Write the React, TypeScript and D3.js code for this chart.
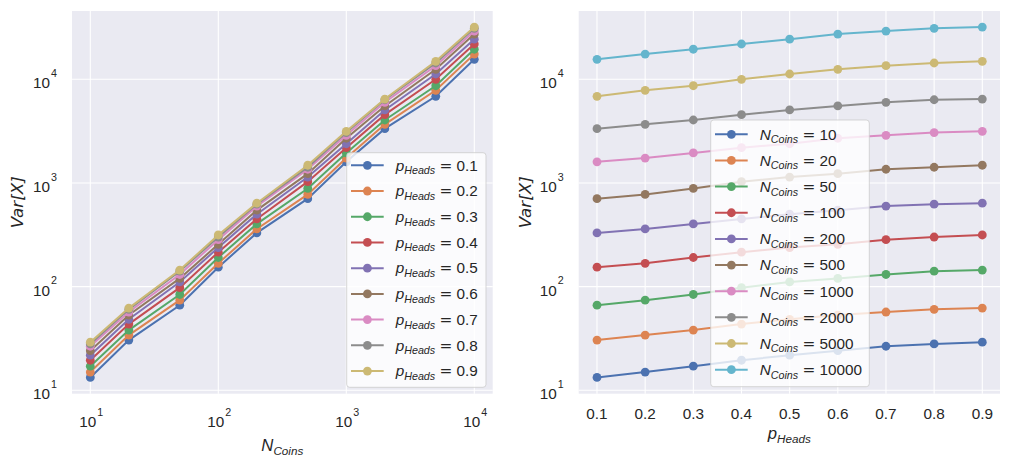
import React from "react";
import * as d3 from "d3";

const pHeads = [0.1, 0.2, 0.3, 0.4, 0.5, 0.6, 0.7, 0.8, 0.9];
const nCoins = [10, 20, 50, 100, 200, 500, 1000, 2000, 5000, 10000];

// Var[X] read per N (index follows pHeads)
const varN10 = [13.3, 15.0, 17.1, 19.5, 21.8, 24.1, 26.6, 28.0, 29.1];
const varN20 = [30.5, 34.1, 38.1, 43.5, 48.4, 53.2, 56.9, 60.4, 62.1];
const varN50 = [66.2, 74, 84, 97.7, 111, 120, 131, 141, 144.5];
const varN100 = [154, 168, 191, 215, 238, 256, 284, 301, 315];
const varN200 = [330, 360, 403, 450, 500, 547, 598, 625, 638];
const varN500 = [705, 775, 885, 1030, 1140, 1230, 1356, 1418, 1483];
const varN1000 = [1600, 1740, 1950, 2190, 2390, 2700, 2880, 3060, 3150];
const varN2000 = [3340, 3680, 4050, 4560, 5060, 5530, 6000, 6350, 6450];
const varN5000 = [6850, 7830, 8670, 10000, 11250, 12480, 13520, 14360, 14920];
const varN10000 = [15600, 17500, 19500, 21900, 24400, 27300, 29200, 31000, 31900];

const varByN = [varN10, varN20, varN50, varN100, varN200, varN500, varN1000, varN2000, varN5000, varN10000];

const yTicks = [10, 100, 1000, 10000];
const xTicksLeft = [10, 100, 1000, 10000];
const xTicksRight = [0.1, 0.2, 0.3, 0.4, 0.5, 0.6, 0.7, 0.8, 0.9];

const palette = ["#4C72B0", "#DD8452", "#55A868", "#C44E52", "#8172B3", "#937860", "#DA8BC3", "#8C8C8C", "#CCB974", "#64B5CD"];

const TEXT = "#262626";
const BG = "#EAEAF2";
const TICK_FONT = "'Liberation Sans', Arial, sans-serif";
const MATH_FONT = "'DejaVu Sans', sans-serif";
const TFS = 15.3;
const LFS = 16.7;

const top = 11, bottom = 393.7;
const L = { x0: 72, x1: 492.7 };
const R = { x0: 578.7, x1: 1000 };

const yScale = d3.scaleLog().domain([10, 10000]).range([390.3, 79.3]);
const xLeft = d3.scaleLog().domain([10, 10000]).range([90.3, 474.3]);
const xRight = d3.scaleLinear().domain([0.1, 0.9]).range([597, 982.3]);

function Pow10({ x, y, exp, anchor }: { x: number; y: number; exp: number; anchor: string }) {
  return (
    <text x={x} y={y} fontFamily={TICK_FONT} fontSize={TFS} fill={TEXT} textAnchor={anchor}>
      <tspan>10</tspan>
      <tspan dx={1} dy={-11.3} fontSize={10.7}>{exp}</tspan>
    </text>
  );
}

function MathLabel({ x, y, main, sub, rest, fs, anchor }: { x: number; y: number; main: string; sub: string; rest?: string; fs: number; anchor?: string }) {
  const sfs = fs * 0.7;
  const dy = fs * 0.24;
  return (
    <text x={x} y={y} fontFamily={TICK_FONT} fontSize={fs} fill={TEXT} textAnchor={anchor || "start"} style={{ whiteSpace: "pre" }}>
      <tspan fontStyle="italic">{main}</tspan>
      <tspan fontStyle="italic" fontSize={sfs} dy={dy}>{sub}</tspan>
      {rest ? <tspan dy={-dy}>{" "}</tspan> : null}
      {rest ? <tspan fontFamily={MATH_FONT}>=</tspan> : null}
      {rest ? <tspan>{" " + rest}</tspan> : null}
    </text>
  );
}

function Panel({ x0, x1, xTicks, xScale, xTickKind, series, legend }: any) {
  const line = d3.line<[number, number]>().x((d) => xScale(d[0])).y((d) => yScale(d[1]));
  const clipId = `clip-${Math.round(x0)}`;
  return (
    <g>
      <defs>
        <clipPath id={clipId}>
          <rect x={x0} y={top} width={x1 - x0} height={bottom - top} />
        </clipPath>
      </defs>
      <rect x={x0} y={top} width={x1 - x0} height={bottom - top} fill={BG} />
      {yTicks.map((t) => (
        <line key={"gy" + t} x1={x0} x2={x1} y1={yScale(t)} y2={yScale(t)} stroke="#fff" strokeWidth={1.1} />
      ))}
      {xTicks.map((t: number) => (
        <line key={"gx" + t} x1={xScale(t)} x2={xScale(t)} y1={top} y2={bottom} stroke="#fff" strokeWidth={1.1} />
      ))}
      <g clipPath={`url(#${clipId})`}>
        {series.map((s: [number, number][], i: number) => (
          <g key={"s" + i}>
            <path d={line(s) || ""} fill="none" stroke={palette[i]} strokeWidth={2} />
            {s.map((d, j) => (
              <circle key={j} cx={xScale(d[0])} cy={yScale(d[1])} r={4.4} fill={palette[i]} />
            ))}
          </g>
        ))}
      </g>
      {yTicks.map((t) => (
        <Pow10 key={"ty" + t} x={x0 - 15} y={yScale(t) + 9} exp={Math.round(Math.log10(t))} anchor="end" />
      ))}
      {xTicks.map((t: number) =>
        xTickKind === "log" ? (
          <Pow10 key={"tx" + t} x={xScale(t) + 1} y={427.3} exp={Math.round(Math.log10(t))} anchor="middle" />
        ) : (
          <text key={"tx" + t} x={xScale(t)} y={419.3} fontFamily={TICK_FONT} fontSize={TFS} fill={TEXT} textAnchor="middle">
            {d3.format(".1f")(t)}
          </text>
        )
      )}
      {legend}
    </g>
  );
}

function Legend({ x, y, w, h, rowY0, step, labels, sub, main }: any) {
  return (
    <g>
      <rect x={x} y={y} width={w} height={h} rx={3} fill="#fff" fillOpacity={0.8} stroke="#cccccc" strokeOpacity={0.8} strokeWidth={1} />
      {labels.map((lab: string, i: number) => {
        const cy = rowY0 + i * step;
        return (
          <g key={i}>
            <line x1={x + 4.3} x2={x + 37} y1={cy} y2={cy} stroke={palette[i]} strokeWidth={2} />
            <circle cx={x + 20.7} cy={cy} r={4.4} fill={palette[i]} />
            <MathLabel x={x + 49} y={cy + 5.3} main={main} sub={sub} rest={lab} fs={TFS} />
          </g>
        );
      })}
    </g>
  );
}

export default function App() {
  const leftSeries = pHeads.map((p, pi) => nCoins.map((n, ni) => [n, varByN[ni][pi]] as [number, number]));
  const rightSeries = nCoins.map((n, ni) => pHeads.map((p, pi) => [p, varByN[ni][pi]] as [number, number]));
  return (
    <div style={{ position: "absolute", left: 0, top: 0 }}>
      <svg width={1010} height={465} style={{ display: "block", background: "#fff" }}>
        <Panel
          x0={L.x0}
          x1={L.x1}
          xTicks={xTicksLeft}
          xScale={xLeft}
          xTickKind="log"
          series={leftSeries}
          legend={
            <Legend x={346.7} y={152.7} w={139.3} h={234.6} rowY0={165.3} step={25.72} labels={pHeads.map((p) => String(p))} main="p" sub="Heads" />
          }
        />
        <Panel
          x0={R.x0}
          x1={R.x1}
          xTicks={xTicksRight}
          xScale={xRight}
          xTickKind="lin"
          series={rightSeries}
          legend={
            <Legend x={710.7} y={120} w={158.6} h={266.7} rowY0={134.3} step={26.15} labels={nCoins.map((n) => String(n))} main="N" sub="Coins" />
          }
        />
        <MathLabel x={282.3} y={450.7} main="N" sub="Coins" fs={LFS} anchor="middle" />
        <MathLabel x={789.3} y={438.5} main="p" sub="Heads" fs={LFS} anchor="middle" />
        <text transform="translate(23,202.3) rotate(-90)" fontFamily={MATH_FONT} fontStyle="italic" fontSize={LFS} fill={TEXT} textAnchor="middle">
          Var[X]
        </text>
        <text transform="translate(530.5,202.3) rotate(-90)" fontFamily={MATH_FONT} fontStyle="italic" fontSize={LFS} fill={TEXT} textAnchor="middle">
          Var[X]
        </text>
      </svg>
    </div>
  );
}
